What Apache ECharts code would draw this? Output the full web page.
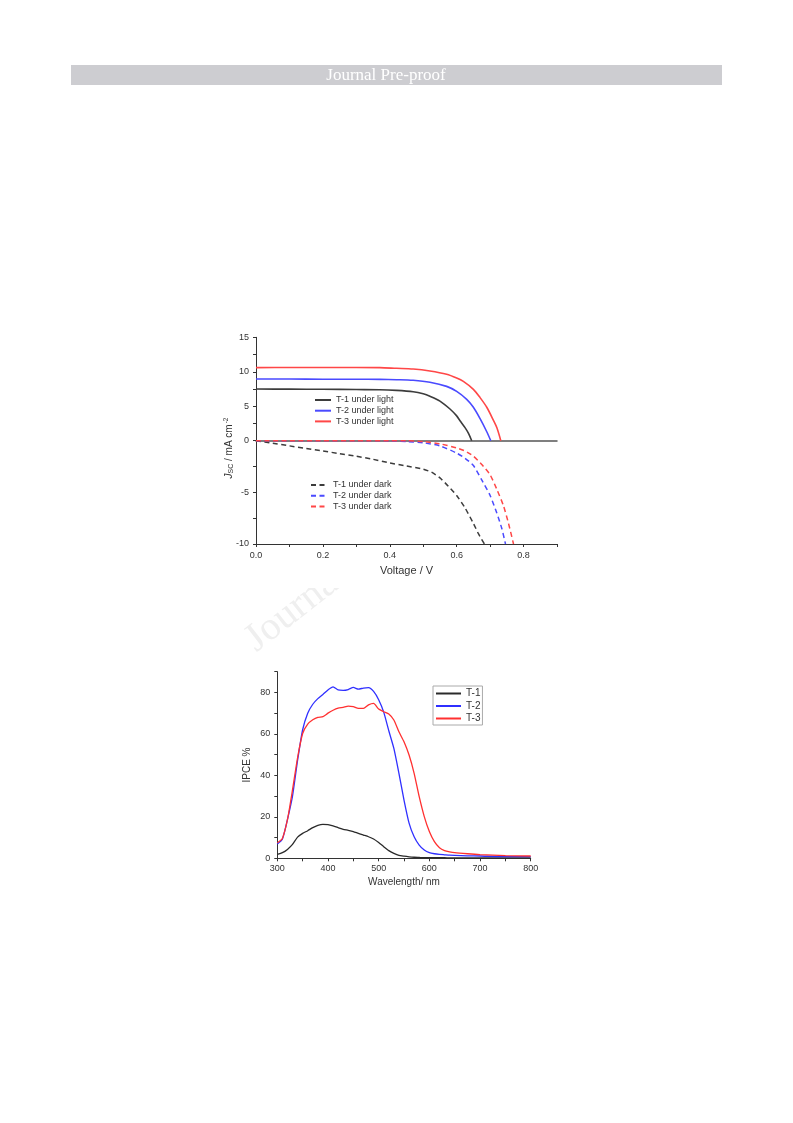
<!DOCTYPE html>
<html>
<head>
<meta charset="utf-8">
<script src="https://cdn.jsdelivr.net/npm/echarts@6/dist/echarts.min.js"></script>
<style>
html,body{margin:0;padding:0;background:#fff;}
#c{width:793px;height:1123px;}
</style>
</head>
<body>
<div id="c"></div>
<script>
// ---------- J-V data (Voltage in V, current density in mA cm^-2) ----------
const lightV1 = [0, 0.1, 0.2, 0.3, 0.37, 0.42, 0.47, 0.5, 0.52, 0.55, 0.58, 0.6, 0.61, 0.625, 0.635, 0.645];
const lightJ1 = [7.5, 7.48, 7.46, 7.42, 7.4, 7.3, 7.1, 6.8, 6.45, 5.75, 4.6, 3.6, 2.9, 1.9, 1.1, 0];
const lightV2 = [0, 0.1, 0.2, 0.3, 0.37, 0.42, 0.47, 0.52, 0.57, 0.6, 0.63, 0.65, 0.67, 0.69, 0.702];
const lightJ2 = [8.95, 8.95, 8.92, 8.92, 8.9, 8.85, 8.76, 8.48, 7.88, 7.15, 6.0, 4.85, 3.2, 1.3, 0];
const lightV3 = [0, 0.1, 0.2, 0.3, 0.37, 0.42, 0.47, 0.52, 0.57, 0.6, 0.62, 0.65, 0.67, 0.69, 0.71, 0.72, 0.732];
const lightJ3 = [10.6, 10.62, 10.62, 10.62, 10.6, 10.5, 10.4, 10.12, 9.65, 9.1, 8.6, 7.45, 6.25, 4.85, 2.95, 1.9, 0];

const darkV1 = [0, 0.05, 0.1, 0.15, 0.2, 0.25, 0.3, 0.35, 0.4, 0.45, 0.5, 0.525, 0.55, 0.575, 0.6, 0.625, 0.65, 0.665, 0.683];
const darkJ1 = [0, -0.25, -0.5, -0.75, -1.0, -1.25, -1.5, -1.8, -2.15, -2.45, -2.75, -3.05, -3.6, -4.4, -5.3, -6.5, -8.0, -9.0, -10];
const darkV2 = [0, 0.1, 0.2, 0.3, 0.4, 0.45, 0.5, 0.55, 0.6, 0.625, 0.65, 0.675, 0.7, 0.72, 0.735, 0.746];
const darkJ2 = [0, 0, 0, 0, -0.02, -0.08, -0.2, -0.5, -1.2, -1.7, -2.4, -3.8, -5.3, -7.0, -8.5, -10];
const darkV3 = [0, 0.1, 0.2, 0.3, 0.4, 0.45, 0.5, 0.55, 0.6, 0.625, 0.65, 0.675, 0.7, 0.72, 0.74, 0.755, 0.77];
const darkJ3 = [0, 0, 0, 0, 0, 0, -0.08, -0.3, -0.7, -1.0, -1.5, -2.3, -3.3, -4.7, -6.3, -8.0, -10];

const jvNames = ['T-1 under light', 'T-2 under light', 'T-3 under light',
                 'T-1 under dark', 'T-2 under dark', 'T-3 under dark'];

// ---------- IPCE data ----------
const wavelengths = [300,310,320,330,340,350,360,370,380,390,400,410,420,430,440,450,460,470,480,490,
                     500,510,520,530,540,550,560,570,580,590,600,610,620,630,640,650,675,700,750,800];
const ipceT1 = [1.9,2.7,4.3,6.7,10.2,12.0,13.3,14.8,15.9,16.4,16.2,15.6,14.8,14.0,13.5,12.9,12.0,11.2,10.4,9.3,
                7.6,5.6,3.7,2.4,1.4,1.0,0.7,0.5,0.4,0.3,0.3,0.3,0.3,0.3,0.2,0.2,0.2,0.2,0.2,0.2];
const ipceT2 = [6.9,9.2,18.7,30.0,47.2,62.0,70.0,74.3,77.0,79.0,81.2,82.7,81.2,81.0,81.4,82.4,81.6,82.1,82.3,80.5,
                76.5,70.5,61.5,53.0,41.0,28.1,17.0,10.4,6.4,4.0,2.7,2.2,1.9,1.7,1.5,1.4,1.2,1.1,0.8,0.8];
const ipceT3 = [7.5,9.6,18.6,33.0,48.5,60.2,64.7,66.8,68.0,68.3,70.0,71.4,72.4,72.8,73.4,73.1,72.3,72.3,74.0,74.7,
                72.0,70.7,69.6,66.7,61.0,56.2,49.8,41.0,29.7,20.1,12.9,8.0,5.1,3.7,3.1,2.7,2.2,1.8,1.3,1.1];
const ipceNames = ['T-1', 'T-2', 'T-3'];

const zip = (xs, ys) => xs.map((x, i) => [x, ys[i]]);

const AX = '#333';
const FONT = 'Liberation Sans';
const HIDDEN_SYMBOL = {color: 'transparent', borderColor: 'transparent', borderWidth: 0};

const chart = echarts.init(document.getElementById('c'), null, {renderer: 'canvas'});

function baseAxisStyle() {
  return {
    axisLine: {show: true, onZero: false, lineStyle: {color: AX, width: 1}},
    axisTick: {show: true, inside: false, length: 3, lineStyle: {color: AX, width: 1}},
    splitLine: {show: false},
    minorTick: {show: false}
  };
}

function lineSeries(name, xi, data, color, width, dashed, smooth) {
  return {
    name: name, type: 'line', xAxisIndex: xi, yAxisIndex: xi, data: data,
    symbol: 'none', showSymbol: false, clip: false, smooth: smooth,
    lineStyle: {color: color, width: width, type: dashed ? [5, 3.5] : 'solid'},
    itemStyle: {color: color}
  };
}

const option = {
  backgroundColor: '#fff',
  animation: false,
  textStyle: {fontFamily: FONT},
  grid: [
    {left: 256, top: 337.3, width: 301, height: 103.4},
    {left: 256, top: 440.7, width: 301, height: 103.3},
    {left: 277.3, top: 671.7, width: 253.4, height: 186.6}
  ],
  xAxis: [
    Object.assign(baseAxisStyle(), {
      gridIndex: 0, type: 'value', min: 0, max: 0.9,
      axisLine: {show: true, onZero: false, lineStyle: {color: '#555', width: 1.5}},
      axisTick: {show: false}, axisLabel: {show: false}
    }),
    Object.assign(baseAxisStyle(), {
      gridIndex: 1, type: 'value', min: 0, max: 0.9, interval: 0.1,
      axisLabel: {
        color: AX, fontSize: 9, margin: 7,
        formatter: v => { const k = Math.round(v * 10); return (k % 2 === 0 && k < 9) ? (k / 10).toFixed(1) : ''; }
      },
      name: 'Voltage / V', nameLocation: 'middle', nameGap: 21,
      nameTextStyle: {color: AX, fontSize: 11}
    }),
    Object.assign(baseAxisStyle(), {
      gridIndex: 2, type: 'value', min: 300, max: 800, interval: 50,
      axisLabel: {
        color: AX, fontSize: 9, margin: 6,
        formatter: v => (Math.round(v) % 100 === 0 ? String(Math.round(v)) : '')
      },
      name: 'Wavelength/ nm', nameLocation: 'middle', nameGap: 19,
      nameTextStyle: {color: AX, fontSize: 10}
    })
  ],
  yAxis: [
    Object.assign(baseAxisStyle(), {
      gridIndex: 0, type: 'value', min: 0, max: 15, interval: 2.5,
      axisLabel: {
        color: AX, fontSize: 9, margin: 7,
        formatter: v => (Math.abs(v % 5) < 1e-6 ? String(Math.round(v)) : '')
      }
    }),
    Object.assign(baseAxisStyle(), {
      gridIndex: 1, type: 'value', min: -10, max: 0, interval: 2.5,
      axisLabel: {
        color: AX, fontSize: 9, margin: 7, showMaxLabel: false,
        formatter: v => (Math.abs(v % 5) < 1e-6 && v !== 0 ? String(Math.round(v)) : '')
      }
    }),
    Object.assign(baseAxisStyle(), {
      gridIndex: 2, type: 'value', min: 0, max: 90, interval: 10,
      axisLabel: {
        color: AX, fontSize: 9, margin: 7,
        formatter: v => (Math.round(v) % 20 === 0 ? String(Math.round(v)) : '')
      },
      name: 'IPCE %', nameLocation: 'middle', nameGap: 25, nameRotate: 90,
      nameTextStyle: {color: AX, fontSize: 10}
    })
  ],
  legend: [
    {
      data: jvNames.slice(0, 3), orient: 'vertical', left: 314, top: 395, padding: 0,
      itemWidth: 16, itemHeight: 8, itemGap: 0.7, itemStyle: HIDDEN_SYMBOL,
      textStyle: {color: AX, fontSize: 9, lineHeight: 10}
    },
    {
      data: jvNames.slice(3), orient: 'vertical', left: 310, top: 480, padding: 0,
      itemWidth: 17, itemHeight: 8, itemGap: 0.7, itemStyle: HIDDEN_SYMBOL,
      textStyle: {color: AX, fontSize: 9, lineHeight: 10}
    },
    {
      data: ipceNames, orient: 'vertical', left: 433, top: 686, padding: [2, 2, 1, 2],
      itemWidth: 25, itemHeight: 8, itemGap: 1.5, itemStyle: HIDDEN_SYMBOL,
      borderColor: '#aaa', borderWidth: 1,
      textStyle: {color: AX, fontSize: 10, lineHeight: 11}
    }
  ],
  series: [
    lineSeries(jvNames[0], 0, zip(lightV1, lightJ1), '#3c3c3c', 1.6, false, 0.3),
    lineSeries(jvNames[1], 0, zip(lightV2, lightJ2), '#4a4aff', 1.6, false, 0.3),
    lineSeries(jvNames[2], 0, zip(lightV3, lightJ3), '#ff4747', 1.6, false, 0.3),
    lineSeries(jvNames[3], 1, zip(darkV1, darkJ1), '#3c3c3c', 1.5, true, 0.2),
    lineSeries(jvNames[4], 1, zip(darkV2, darkJ2), '#4a4aff', 1.5, true, 0.2),
    lineSeries(jvNames[5], 1, zip(darkV3, darkJ3), '#ff4747', 1.5, true, 0.2),
    lineSeries(ipceNames[0], 2, zip(wavelengths, ipceT1), '#2a2a2a', 1.3, false, 0.2),
    lineSeries(ipceNames[1], 2, zip(wavelengths, ipceT2), '#2f2fff', 1.3, false, 0.2),
    lineSeries(ipceNames[2], 2, zip(wavelengths, ipceT3), '#ff3030', 1.3, false, 0.2)
  ],
  graphic: [
    // faint diagonal watermark (mostly hidden behind the figure images)
    {type: 'text', z: -10, x: 262, y: 660, rotation: 0.66, silent: true,
     style: {text: 'Journal Pre-proof', fill: '#efefef', font: '40px "Liberation Serif"',
             textAlign: 'left', textVerticalAlign: 'bottom', align: 'left', verticalAlign: 'bottom'}},
    {type: 'rect', z: -5, silent: true, shape: {x: 200, y: 320, width: 400, height: 268}, style: {fill: '#fff'}},
    {type: 'rect', z: -5, silent: true, shape: {x: 200, y: 657, width: 360, height: 250}, style: {fill: '#fff'}},
    // header bar
    {type: 'rect', z: 1, silent: true, shape: {x: 71, y: 65, width: 651, height: 20}, style: {fill: '#cdcdd1'}},
    {type: 'text', z: 2, x: 386, y: 75.5, silent: true,
     style: {text: 'Journal Pre-proof', fill: '#fff', font: '17px "Liberation Serif"',
             textAlign: 'center', textVerticalAlign: 'middle', align: 'center', verticalAlign: 'middle'}},
    // y-axis title of the J-V plot
    {type: 'text', z: 2, x: 229, y: 448, rotation: Math.PI / 2, silent: true,
     style: {
       text: '{j|J}{s|SC}{t| / mA cm}{p|-2}',
       textAlign: 'center', textVerticalAlign: 'middle', align: 'center', verticalAlign: 'middle',
       rich: {
         j: {fontFamily: FONT, fontSize: 10, fontStyle: 'italic', fill: AX, color: AX, lineHeight: 14, verticalAlign: 'middle'},
         s: {fontFamily: FONT, fontSize: 7, fill: AX, color: AX, lineHeight: 14, verticalAlign: 'bottom', padding: [0, 0, 1, 0]},
         t: {fontFamily: FONT, fontSize: 10, fill: AX, color: AX, lineHeight: 14, verticalAlign: 'middle'},
         p: {fontFamily: FONT, fontSize: 6.5, fill: AX, color: AX, lineHeight: 14, verticalAlign: 'top', padding: [1, 0, 0, 1]}
       }
     }}
  ]
};
chart.setOption(option);
</script>
</body>
</html>
